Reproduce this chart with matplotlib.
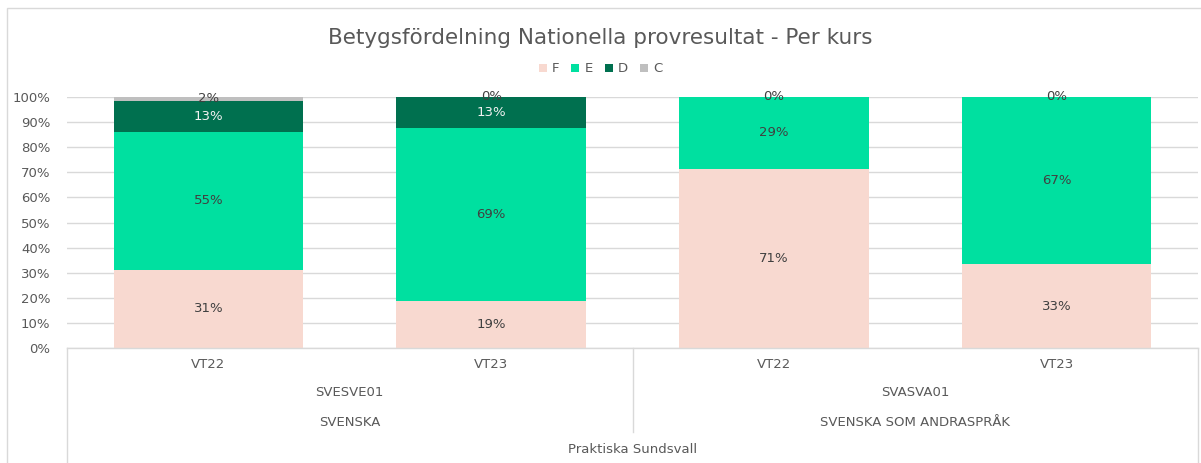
import numpy as np
import matplotlib
matplotlib.use("Agg")
import matplotlib.pyplot as plt
from matplotlib.patches import Rectangle

# data (andel elever per betyg)
terminer = ["VT22", "VT23", "VT22", "VT23"]
kurser = ["SVESVE01", "SVASVA01"]
amnen = ["SVENSKA", "SVENSKA SOM ANDRASPRÅK"]
skola = "Praktiska Sundsvall"
betyg = ["F", "E", "D", "C"]
F = [20/64, 3/16, 5/7, 1/3]
E = [35/64, 11/16, 2/7, 2/3]
D = [8/64, 2/16, np.nan, np.nan]
C = [1/64, 0.0, 0.0, 0.0]
farger = ["#F8D9D0", "#00E0A0", "#00704F", "#BFBFBF"]
textfarg = ["#404040", "#404040", "#F2F2F2", "#404040"]

plt.rcParams['font.family'] = ['DejaVu Sans']
fig = plt.figure(figsize=(12.01, 4.63), dpi=100)
# ram runt diagrammet (beskuren nere och till höger)
fig.patches.append(Rectangle((7/1201, -0.1), 1.2, 1.1 - 8/463, transform=fig.transFigure,
                             fill=False, edgecolor="#D9D9D9", lw=1))
ax = fig.add_axes([67/1201, (463-348)/463, (1198-67)/1201, 251/463])

x = np.arange(len(terminer))
botten = np.zeros(len(x))
for namn, serie, farg, tf in zip(betyg, [F, E, D, C], farger, textfarg):
    v = np.array(serie, dtype=float)
    h = np.nan_to_num(v)
    ax.bar(x, h, bottom=botten, width=0.67, color=farg, label=namn, zorder=2)
    for i in range(len(x)):
        if np.isnan(v[i]):
            continue
        ax.text(x[i], botten[i] + h[i] / 2, "%d%%" % int(v[i] * 100 + 0.5),
                ha="center", va="center", fontsize=9.5, color=tf, zorder=3)
    botten += h

ax.set_xlim(-0.5, 3.5)
ax.set_ylim(0, 1)
ax.set_yticks(np.arange(0, 1.01, 0.1))
ax.set_yticklabels(["%d%%" % round(t * 100) for t in np.arange(0, 1.01, 0.1)])
ax.tick_params(axis="y", length=0, labelsize=9.5, labelcolor="#595959", pad=12)
ax.set_xticks([])
for s in ax.spines.values():
    s.set_visible(False)
ax.grid(axis="y", color="#D9D9D9", lw=1, zorder=0)
ax.set_axisbelow(True)

# kategoriaxel med flera nivåer
tr = ax.get_xaxis_transform()
lc = "#D9D9D9"
ax.plot([-0.5, 3.5], [0, 0], color=lc, lw=1, transform=tr, clip_on=False)
ax.plot([-0.5, -0.5], [0, -0.47], color=lc, lw=1, transform=tr, clip_on=False)
ax.plot([3.5, 3.5], [0, -0.47], color=lc, lw=1, transform=tr, clip_on=False)
ax.plot([1.5, 1.5], [0, -0.335], color=lc, lw=1, transform=tr, clip_on=False)
for i, t in enumerate(terminer):
    ax.text(x[i], -0.064, t, transform=tr, ha="center", va="center", fontsize=9.5, color="#595959")
for j in range(2):
    ax.text(2 * j + 0.5, -0.179, kurser[j], transform=tr, ha="center", va="center", fontsize=9.5, color="#595959")
    ax.text(2 * j + 0.5, -0.295, amnen[j], transform=tr, ha="center", va="center", fontsize=9.5, color="#595959")
ax.text(1.5, -0.406, skola, transform=tr, ha="center", va="center", fontsize=9.5, color="#595959")

fig.suptitle("Betygsfördelning Nationella provresultat - Per kurs", x=0.5, y=1 - 38/463,
             va="center", fontsize=15.5, color="#595959")
fig.legend(loc="center", bbox_to_anchor=(0.5, 1 - 69/463), ncol=4, frameon=False,
           fontsize=9.5, labelcolor="#595959", handlelength=0.6, handleheight=0.6,
           handletextpad=0.4, columnspacing=0.9)

fig.savefig("out.png", dpi=100)
